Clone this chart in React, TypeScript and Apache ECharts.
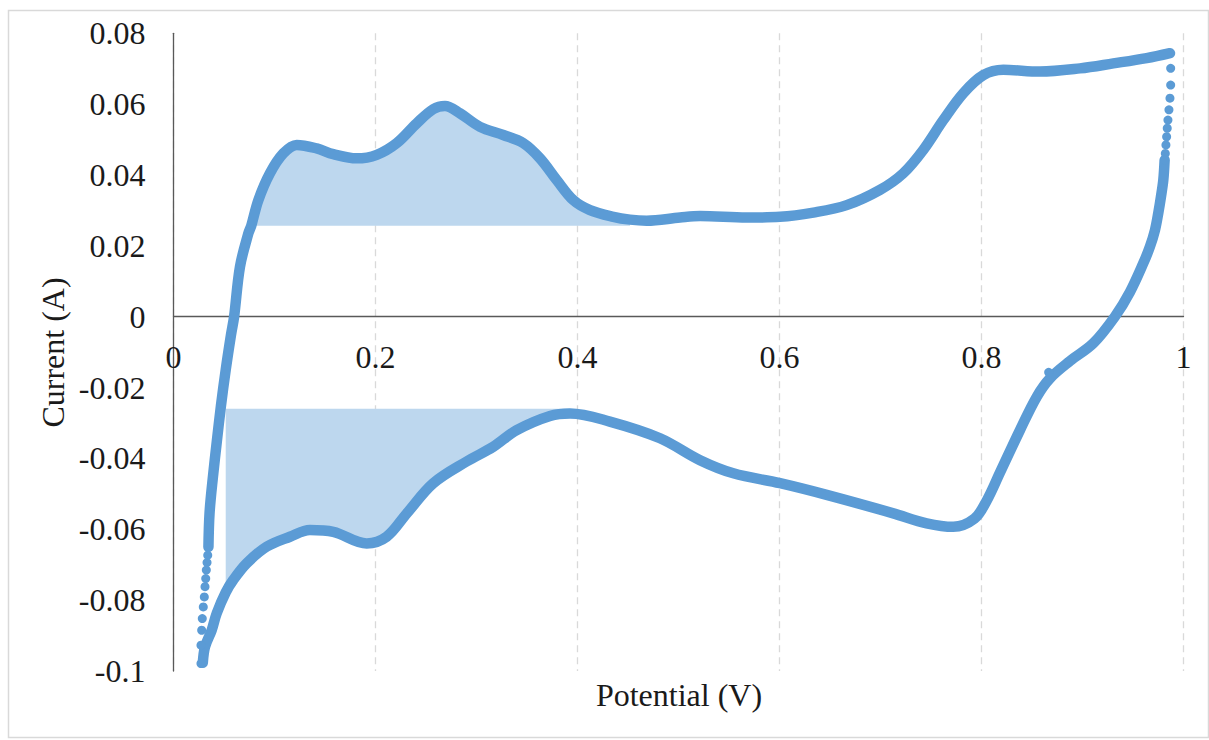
import { useEffect, useRef } from "react";
import * as echarts from "echarts";

// Cyclic voltammogram: potential (V) vs current (A)

// Axis ranges and tick steps
const potentialMin = 0;
const potentialMax = 1;
const potentialStep = 0.2;
const currentMin = -0.1;
const currentMax = 0.08;
const currentStep = 0.02;

const xAxisTitle = "Potential (V)";
const yAxisTitle = "Current (A)";

// Forward (anodic) sweep, left to right along the top
const anodicSweep: [number, number][] = [
  [0.0346, -0.0650],
  [0.0357, -0.0554],
  [0.0390, -0.0453],
  [0.0429, -0.0352],
  [0.0470, -0.0251],
  [0.0517, -0.0150],
  [0.0570, -0.0050],
  [0.0600, 0.0000],
  [0.0658, 0.0141],
  [0.0741, 0.0235],
  [0.0770, 0.0257],
  [0.0840, 0.0329],
  [0.0955, 0.0405],
  [0.1087, 0.0461],
  [0.1220, 0.0485],
  [0.1418, 0.0475],
  [0.1582, 0.0459],
  [0.1814, 0.0447],
  [0.2012, 0.0457],
  [0.2210, 0.0490],
  [0.2408, 0.0546],
  [0.2572, 0.0586],
  [0.2688, 0.0595],
  [0.2837, 0.0574],
  [0.3035, 0.0536],
  [0.3265, 0.0513],
  [0.3463, 0.0490],
  [0.3629, 0.0447],
  [0.3794, 0.0386],
  [0.3959, 0.0329],
  [0.4124, 0.0301],
  [0.4355, 0.0282],
  [0.4520, 0.0274],
  [0.4685, 0.0271],
  [0.5015, 0.0280],
  [0.5213, 0.0284],
  [0.5675, 0.0280],
  [0.6005, 0.0282],
  [0.6335, 0.0294],
  [0.6665, 0.0315],
  [0.6995, 0.0358],
  [0.7226, 0.0405],
  [0.7424, 0.0471],
  [0.7622, 0.0555],
  [0.7820, 0.0631],
  [0.8018, 0.0682],
  [0.8216, 0.0697],
  [0.8579, 0.0692],
  [0.8975, 0.0701],
  [0.9305, 0.0715],
  [0.9635, 0.0730],
  [0.9866, 0.0744],
];

// Reverse (cathodic) sweep, right to left along the bottom
const cathodicSweep: [number, number][] = [
  [0.9813, 0.0442],
  [0.9800, 0.0386],
  [0.9777, 0.0339],
  [0.9750, 0.0292],
  [0.9718, 0.0245],
  [0.9668, 0.0198],
  [0.9602, 0.0151],
  [0.9470, 0.0070],
  [0.9320, 0.0000],
  [0.9107, -0.0075],
  [0.8876, -0.0125],
  [0.8678, -0.0174],
  [0.8547, -0.0226],
  [0.8381, -0.0320],
  [0.8183, -0.0440],
  [0.8050, -0.0520],
  [0.7930, -0.0570],
  [0.7721, -0.0593],
  [0.7457, -0.0583],
  [0.7127, -0.0555],
  [0.6467, -0.0503],
  [0.6005, -0.0470],
  [0.5543, -0.0442],
  [0.5213, -0.0405],
  [0.4817, -0.0343],
  [0.4320, -0.0296],
  [0.3926, -0.0273],
  [0.3728, -0.0280],
  [0.3398, -0.0320],
  [0.3166, -0.0367],
  [0.2900, -0.0409],
  [0.2572, -0.0470],
  [0.2310, -0.0555],
  [0.2110, -0.0621],
  [0.1913, -0.0640],
  [0.1582, -0.0607],
  [0.1351, -0.0602],
  [0.1153, -0.0621],
  [0.0923, -0.0649],
  [0.0725, -0.0696],
  [0.0592, -0.0743],
  [0.0517, -0.0778],
  [0.0428, -0.0837],
  [0.0378, -0.0885],
  [0.0312, -0.0932],
  [0.0290, -0.0977],
];

// Sparse samples at the two switching potentials
const upperSwitchPoints: [number, number][] = [
  [0.9873, 0.0701],
  [0.9873, 0.0654],
  [0.9866, 0.0617],
  [0.9856, 0.0584],
  [0.9846, 0.0555],
  [0.9839, 0.0532],
  [0.9833, 0.0508],
  [0.9826, 0.0485],
  [0.9820, 0.0461],
  [0.9813, 0.0442],
];
const lowerSwitchPoints: [number, number][] = [
  [0.0272, -0.0979],
  [0.0272, -0.0927],
  [0.0279, -0.0885],
  [0.0285, -0.0852],
  [0.0295, -0.0819],
  [0.0305, -0.0791],
  [0.0312, -0.0762],
  [0.0319, -0.0739],
  [0.0325, -0.0715],
  [0.0332, -0.0694],
  [0.0339, -0.0673],
];
// A single noisy sample on the cathodic branch
const strayPoints: [number, number][] = [[0.8665, -0.0157]];

// Integrated peak regions: baseline current and potential window
const anodicBaseline = 0.0257;
const anodicWindow: [number, number] = [0.077, 0.452];
const cathodicBaseline = -0.026;
const cathodicWindow: [number, number] = [0.051, 0.4];

const curveColor = "#5B9BD5";
const fillColor = "#BDD7EE";
const serif = "'Times New Roman', 'Liberation Serif', serif";

// Plot area in pixels
const gridLeft = 173.5;
const gridRight = 25.5;
const gridTop = 33.3;
const gridBottom = 69;
const chartHeight = 740;

const inWindow = (pts: [number, number][], w: [number, number]) =>
  pts.filter((p) => p[0] >= w[0] && p[0] <= w[1]).sort((a, b) => a[0] - b[0]);

const formatTick = (v: number) => String(Number(v.toFixed(2)));

export default function App() {
  const ref = useRef<HTMLDivElement>(null);

  useEffect(() => {
    if (!ref.current) return;
    const chart = echarts.init(ref.current, undefined, { renderer: "svg" });

    const smooth = 0.35;
    // The potential axis sits on the zero-current line, labels included
    const plotHeight = chartHeight - gridTop - gridBottom;
    const zeroOffset = -plotHeight * (0 - currentMin) / (currentMax - currentMin);

    const curveStyle = { color: curveColor, width: 10.5, cap: "round", join: "round" };

    chart.setOption({
      animation: false,
      backgroundColor: "#ffffff",
      grid: { left: gridLeft, right: gridRight, top: gridTop, bottom: gridBottom, containLabel: false },
      xAxis: {
        type: "value",
        min: potentialMin,
        max: potentialMax,
        interval: potentialStep,
        offset: zeroOffset,
        axisLine: { onZero: false, lineStyle: { color: "#595959", width: 1.3 } },
        axisTick: { show: false },
        axisLabel: {
          margin: 24,
          fontSize: 32,
          fontFamily: serif,
          color: "#1a1a1a",
          formatter: formatTick,
          showMinLabel: true,
          showMaxLabel: true,
        },
        splitLine: { show: true, lineStyle: { color: "#D9D9D9", width: 1.3, type: [7, 5] } },
      },
      yAxis: {
        type: "value",
        min: currentMin,
        max: currentMax,
        interval: currentStep,
        axisLine: { show: true, onZero: false, lineStyle: { color: "#595959", width: 1.3 } },
        axisTick: { show: false },
        axisLabel: {
          margin: 28,
          fontSize: 32,
          fontFamily: serif,
          color: "#1a1a1a",
          formatter: formatTick,
          showMinLabel: true,
          showMaxLabel: true,
        },
        splitLine: { show: false },
      },
      series: [
        {
          type: "line",
          name: "anodic area",
          data: inWindow(anodicSweep, anodicWindow),
          smooth,
          symbol: "none",
          silent: true,
          lineStyle: { width: 0 },
          areaStyle: { color: fillColor, opacity: 1, origin: anodicBaseline },
          z: 1,
        },
        {
          type: "line",
          name: "cathodic area",
          data: inWindow(cathodicSweep, cathodicWindow),
          smooth,
          symbol: "none",
          silent: true,
          lineStyle: { width: 0 },
          areaStyle: { color: fillColor, opacity: 1, origin: cathodicBaseline },
          z: 1,
        },
        {
          type: "line",
          name: "anodic sweep",
          data: anodicSweep,
          smooth,
          symbol: "none",
          lineStyle: curveStyle,
          z: 3,
        },
        {
          type: "line",
          name: "cathodic sweep",
          data: cathodicSweep,
          smooth,
          symbol: "none",
          lineStyle: curveStyle,
          z: 3,
        },
        {
          type: "scatter",
          name: "switching",
          data: [...upperSwitchPoints, ...lowerSwitchPoints, ...strayPoints],
          symbol: "circle",
          symbolSize: 9,
          itemStyle: { color: curveColor, opacity: 1 },
          z: 4,
        },
      ],
      graphic: [
        {
          type: "rect",
          shape: { x: 8.5, y: 10.5, width: 1200, height: 727 },
          style: { fill: "none", stroke: "#D9D9D9", lineWidth: 1.5 },
          silent: true,
          z: -10,
        },
        {
          type: "text",
          x: 679,
          y: 695,
          style: {
            text: xAxisTitle,
            font: `32px ${serif}`,
            fill: "#1a1a1a",
            align: "center",
            verticalAlign: "middle",
          },
        },
        {
          type: "text",
          x: 53,
          y: 352.5,
          rotation: Math.PI / 2,
          style: {
            text: yAxisTitle,
            font: `32px ${serif}`,
            fill: "#1a1a1a",
            align: "center",
            verticalAlign: "middle",
          },
        },
      ],
    });

    return () => chart.dispose();
  }, []);

  return (
    <div
      ref={ref}
      style={{ position: "fixed", left: 0, top: 0, width: 1209, height: 740, background: "#fff" }}
    />
  );
}
